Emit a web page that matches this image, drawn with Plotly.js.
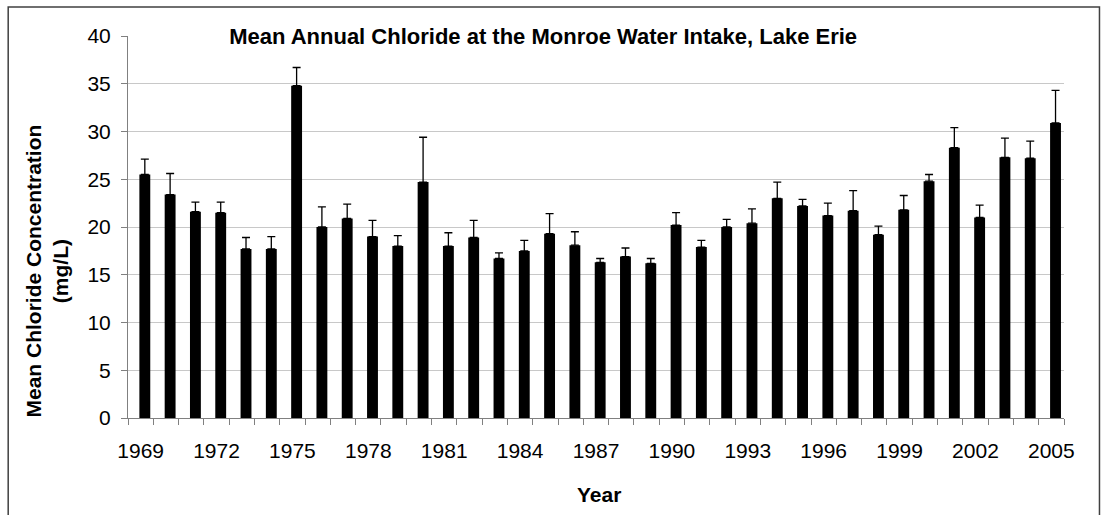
<!DOCTYPE html>
<html>
<head>
<meta charset="utf-8">
<script src="https://cdn.plot.ly/plotly-3.0.1.min.js"></script>
<style>
  html, body { margin: 0; padding: 0; background: #ffffff; }
  #chart { width: 1106px; height: 515px; }
</style>
</head>
<body>
<div id="chart"></div>
<script>
// ---- data ----
const years = [1969, 1970, 1971, 1972, 1973, 1974, 1975, 1976, 1977, 1978,
               1979, 1980, 1981, 1982, 1983, 1984, 1985, 1986, 1987, 1988,
               1989, 1990, 1991, 1992, 1993, 1994, 1995, 1996, 1997, 1998,
               1999, 2000, 2001, 2002, 2003, 2004, 2005];
const meanChloride = [25.5, 23.4, 21.6, 21.5, 17.7, 17.7, 34.8, 20.0, 20.9, 19.0,
                      18.0, 24.7, 18.0, 18.9, 16.7, 17.5, 19.3, 18.1, 16.3, 16.9,
                      16.2, 20.2, 17.9, 20.0, 20.4, 23.0, 22.2, 21.2, 21.7, 19.2,
                      21.8, 24.8, 28.3, 21.0, 27.3, 27.2, 30.9];
const upperError = [1.6, 2.2, 1.0, 1.1, 1.2, 1.3, 1.9, 2.1, 1.5, 1.7,
                    1.1, 4.7, 1.4, 1.8, 0.6, 1.1, 2.1, 1.4, 0.4, 0.9,
                    0.5, 1.3, 0.7, 0.8, 1.5, 1.7, 0.7, 1.3, 2.1, 0.9,
                    1.5, 0.7, 2.1, 1.3, 2.0, 1.8, 3.4];
const tickYears = [1969, 1972, 1975, 1978, 1981, 1984, 1987, 1990, 1993, 1996, 1999, 2002, 2005];
const tickLabels = ['1969', '1972', '1975', '1978', '1981', '1984', '1987', '1990', '1993', '1996', '1999', '2002', '2005'];
const chartTitle = 'Mean Annual Chloride at the Monroe Water Intake, Lake Erie';
const yTitle = 'Mean Chloride Concentration<br>(mg/L)';
const xTitle = 'Year';

// ---- chart ----
const FONT = 'Liberation Sans, Arial, Helvetica, sans-serif';
const boundaries = years.map(y => y - 0.5).concat([years[years.length - 1] + 0.5]);
const zeros = years.map(() => 0);

const trace = {
  type: 'bar',
  x: years,
  y: meanChloride,
  width: 0.43,
  offset: -0.05,
  marker: { color: '#000000', line: { width: 0 } },
  error_y: {
    type: 'data',
    symmetric: false,
    array: upperError,
    arrayminus: zeros,
    color: '#000000',
    thickness: 1.3,
    width: 4
  },
  hoverinfo: 'x+y'
};

const layout = {
  width: 1106,
  height: 515,
  margin: { l: 128, r: 42, t: 36, b: 97 },
  paper_bgcolor: '#ffffff',
  plot_bgcolor: '#ffffff',
  showlegend: false,
  font: { family: FONT, color: '#000000', size: 21 },
  title: {
    text: '<b>' + chartTitle + '</b>',
    font: { family: FONT, size: 22, color: '#000000' },
    xref: 'paper', x: 0.4435, xanchor: 'center',
    yref: 'container', y: 0.93, yanchor: 'middle'
  },
  xaxis: {
    type: 'linear',
    range: [years[0] - 0.5, years[years.length - 1] + 0.5],
    tickmode: 'array',
    tickvals: tickYears,
    ticktext: tickLabels,
    ticks: '',
    ticklabelstandoff: 14,
    tickfont: { family: FONT, size: 21, color: '#000000' },
    showline: true,
    linecolor: '#808080',
    linewidth: 1,
    showgrid: false,
    zeroline: false,
    fixedrange: true,
    minor: {
      tickmode: 'array',
      tickvals: boundaries,
      ticks: 'outside',
      ticklen: 6,
      tickwidth: 1,
      tickcolor: '#808080',
      showgrid: false
    }
  },
  yaxis: {
    range: [0, 40],
    tick0: 0,
    dtick: 5,
    ticks: 'outside',
    ticklen: 6,
    tickwidth: 1,
    tickcolor: '#808080',
    ticklabelstandoff: 6,
    tickfont: { family: FONT, size: 21, color: '#000000' },
    showline: true,
    linecolor: '#808080',
    linewidth: 1,
    showgrid: true,
    gridcolor: '#c8c8c8',
    gridwidth: 1,
    zeroline: false,
    fixedrange: true
  },
  annotations: [
    {
      text: '<b>' + yTitle + '</b>',
      xref: 'paper', yref: 'paper',
      x: -0.0863, y: 0.384,
      xanchor: 'center', yanchor: 'middle',
      textangle: -90,
      showarrow: false,
      font: { family: FONT, size: 21, color: '#000000' }
    },
    {
      text: '<b>' + xTitle + '</b>',
      xref: 'paper', yref: 'paper',
      x: 0.503, y: -0.2,
      xanchor: 'center', yanchor: 'middle',
      showarrow: false,
      font: { family: FONT, size: 21, color: '#000000' }
    }
  ],
  shapes: [
    {
      type: 'rect', xref: 'paper', yref: 'paper',
      x0: -0.128, x1: 1.0379, y0: -0.3, y1: 1.076,
      line: { color: '#404040', width: 1.5 },
      fillcolor: 'rgba(0,0,0,0)',
      layer: 'above'
    }
  ]
};

Plotly.newPlot('chart', [trace], layout, { displayModeBar: false, staticPlot: true });
</script>
</body>
</html>
